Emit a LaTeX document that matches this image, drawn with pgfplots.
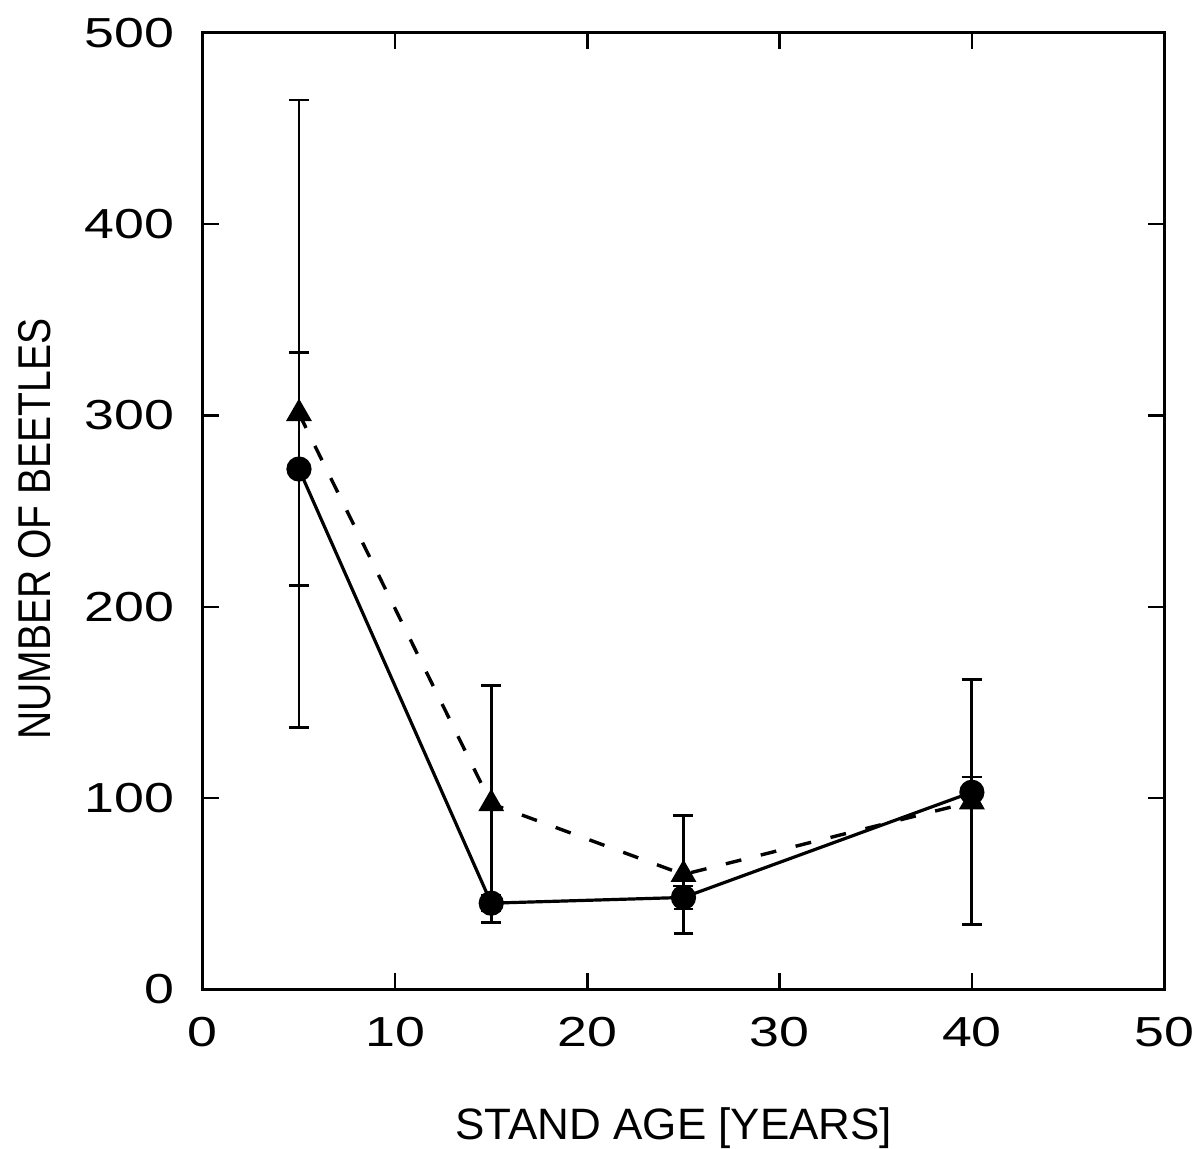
\documentclass[border=0pt]{standalone}
\usepackage{fontspec}
\setmainfont{Liberation Sans}
\usepackage{graphicx}
\usepackage{pgfplots}
\usepackage{pgfplotstable}
\pgfplotsset{compat=1.18}

% stand age, mean, error
\pgfplotstableread{
x y e
5 272 61
15 45 4
25 48 6
40 103 8
}\circdata
\pgfplotstableread{
x y e
5 301 164
15 97 62
25 60 31
40 98 64
}\tridata

\begin{document}
\begin{tikzpicture}
\begin{axis}[
    scale only axis,
    width=481pt, height=478.5pt,
    xmin=0, xmax=50, ymin=0, ymax=500,
    xtick={0,10,...,50}, ytick={0,100,...,500},
    tick align=inside, tick pos=both, major tick length=8pt,
    every tick/.style={black, line width=1.2pt},
    axis line style={line width=1.5pt},
    /pgf/number format/assume math mode=true,
    ticklabel style={font=\fontsize{21}{25}\selectfont},
    xticklabel style={anchor=north, inner sep=0pt, yshift=-14pt},
    yticklabel style={anchor=east, inner sep=0pt, xshift=-14pt},
    xticklabel={\scalebox{1.28}[1]{\pgfmathprintnumber{\tick}}},
    yticklabel={\scalebox{1.28}[1]{\pgfmathprintnumber{\tick}}},
    xlabel={STAND AGE [YEARS]},
    ylabel={\scalebox{0.85}[1]{NUMBER OF BEETLES}},
    xlabel style={font=\fontsize{22}{26}\selectfont, inner sep=0pt,
        at={(axis description cs:0.49,-0.157)}, anchor=base},
    ylabel style={font=\fontsize{23}{27}\selectfont, inner sep=0pt,
        at={(axis description cs:-0.159,0.481)}, anchor=base},
]
\addplot[black, line width=1.7pt, dash pattern=on 8pt off 10pt,
    mark=triangle*, mark size=5.8pt, mark options={solid},
    error bars/.cd, y dir=both, y explicit,
    error bar style={solid, line width=1.4pt},
    error mark options={solid, rotate=90, mark size=5pt, line width=1.4pt}]
    table[x=x, y=y, y error=e] {\tridata};
\addplot[black, line width=1.6pt,
    mark=*, mark size=5.5pt,
    error bars/.cd, y dir=both, y explicit,
    error bar style={line width=1.4pt},
    error mark options={rotate=90, mark size=5pt, line width=1.4pt}]
    table[x=x, y=y, y error=e] {\circdata};
\end{axis}
\path (current axis.south west) ++(-101.5pt,-78pt) coordinate (bl);
\path (current axis.north east) ++(14.5pt,16.5pt) coordinate (tr);
\path (bl) rectangle (tr);
\end{tikzpicture}
\end{document}
